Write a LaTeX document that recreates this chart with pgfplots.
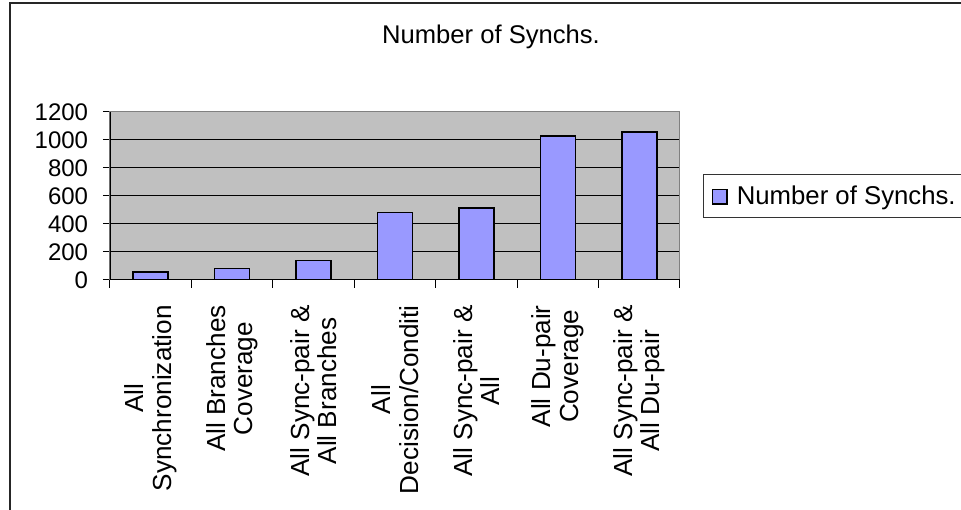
\documentclass[border=0pt]{standalone}
\usepackage{pgfplots}
\pgfplotsset{compat=1.18}
\usepackage{fontspec}
\setmainfont{Liberation Sans}
\definecolor{barblue}{RGB}{153,153,255}
\definecolor{plotgray}{RGB}{192,192,192}
\definecolor{bordergray}{RGB}{128,128,128}
\begin{document}
\begin{tikzpicture}
\useasboundingbox (0,0) rectangle (720.75pt,382.5pt);
\draw[line width=1.5pt, black!85] (7.5pt,-5pt) -- (7.5pt,380.25pt) -- (740pt,380.25pt);
\node[font=\fontsize{19.2pt}{23pt}\selectfont, anchor=base, inner sep=0pt] at (368.25pt,349.5pt) {Number of Synchs.};
\begin{axis}[
  at={(82.5pt,172.5pt)}, anchor=south west,
  width=427.5pt, height=126pt, scale only axis,
  xmin=-0.5, xmax=6.5, ymin=0, ymax=1200,
  axis background/.style={fill=plotgray},
  axis line style={bordergray, line width=0.75pt},
  ytick={0,200,...,1200},
  ymajorgrids, grid style={black, line width=0.75pt},
  xtick={0,...,6},
  xticklabels={{All\\Synchronization},{All Branches\\Coverage},{All Sync-pair \&\\All Branches},{All\\Decision/Conditi},{All Sync-pair \&\\All},{All Du-pair\\Coverage},{All Sync-pair \&\\All Du-pair}},
  minor xtick={-0.5,0.5,...,6.5},
  major x tick style={draw=none},
  minor x tick style={black, line width=0.75pt},
  y tick style={black, line width=0.75pt},
  tick align=outside, tick pos=left,
  major tick length=5.25pt, minor tick length=6pt,
  xticklabel style={rotate=90, anchor=east, align=center, inner sep=0pt, xshift=-13.5pt,
    font=\fontsize{19.6pt}{20.5pt}\selectfont},
  yticklabel style={font=\fontsize{18pt}{21pt}\selectfont, inner sep=0pt, xshift=-11pt},
  /pgf/number format/assume math mode=true,
  /pgf/number format/1000 sep={},
  legend style={at={(axis description cs:1.0404,0.631)}, anchor=north west,
    draw=black!80, line width=0.75pt, font=\fontsize{19.3pt}{23pt}\selectfont,
    inner xsep=6pt, inner ysep=6.5pt, cells={anchor=west}},
  legend image code/.code={\draw[fill=barblue, draw=black, line width=1pt] (0pt,-6pt) rectangle (11pt,5pt);},
]
\addplot[ybar, bar width=26.25pt, fill=barblue, draw=black, line width=1.1pt]
  coordinates {(0,56) (1,82) (2,140) (3,484) (4,515) (5,1028) (6,1057)};
\addlegendentry{\hspace*{5pt}Number of Synchs.\hspace*{30pt}}
\draw[black, line width=0.9pt] (rel axis cs:0,0) -- (rel axis cs:0,1);
\draw[black, line width=0.9pt] (rel axis cs:0,0) -- (rel axis cs:1,0);
\end{axis}
\end{tikzpicture}
\end{document}
